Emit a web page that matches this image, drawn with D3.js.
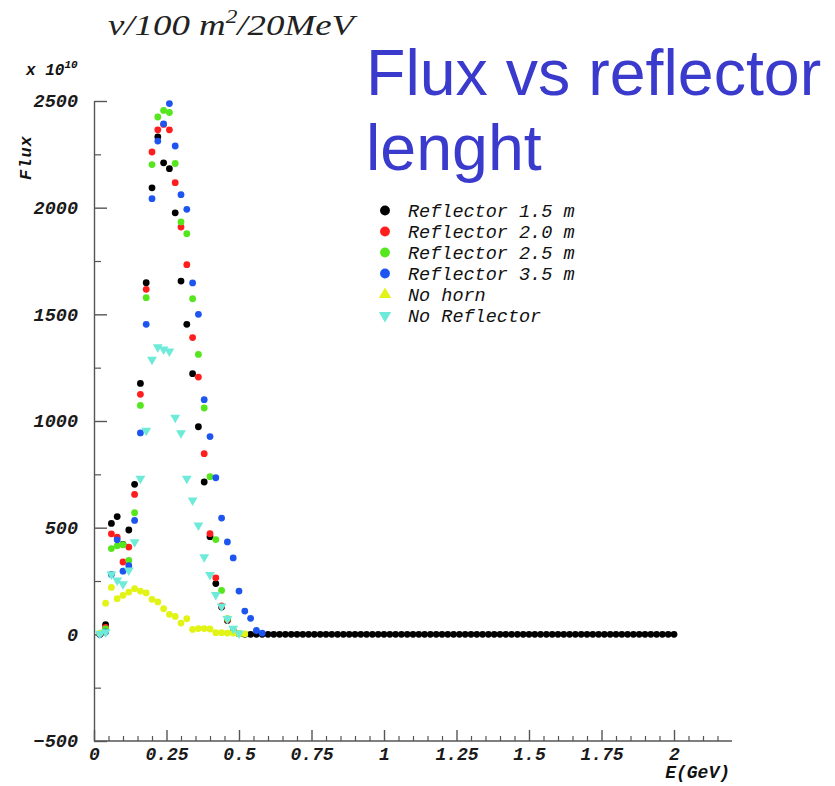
<!DOCTYPE html>
<html>
<head>
<meta charset="utf-8">
<script src="https://cdn.jsdelivr.net/npm/d3@7/dist/d3.min.js"></script>
<style>
  html, body { margin: 0; padding: 0; background: #fff; }
  svg { display: block; }
</style>
</head>
<body>
<svg id="chart" width="835" height="786"></svg>
<script>
// ---- data (bin centres in GeV, 20 MeV bins) ----
const energies = [
  0.02,0.04,0.06,0.08,0.10,0.12,0.14,0.16,0.18,0.20,
  0.22,0.24,0.26,0.28,0.30,0.32,0.34,0.36,0.38,0.40,
  0.42,0.44,0.46,0.48,0.50,0.52,0.54,0.56,0.58,0.60,
  0.62,0.64,0.66,0.68,0.70,0.72,0.74,0.76,0.78,0.80,
  0.82,0.84,0.86,0.88,0.90,0.92,0.94,0.96,0.98,1.00,
  1.02,1.04,1.06,1.08,1.10,1.12,1.14,1.16,1.18,1.20,
  1.22,1.24,1.26,1.28,1.30,1.32,1.34,1.36,1.38,1.40,
  1.42,1.44,1.46,1.48,1.50,1.52,1.54,1.56,1.58,1.60,
  1.62,1.64,1.66,1.68,1.70,1.72,1.74,1.76,1.78,1.80,
  1.82,1.84,1.86,1.88,1.90,1.92,1.94,1.96,1.98,2.00
];
const reflector15 = [
  0,45,520,552,422,489,703,1176,1648,2093,
  2332,2210,2183,1976,1656,1453,1222,973,714,458,
  238,128,65,15,3,0,0,0,0,0,
  0,0,0,0,0,0,0,0,0,0,
  0,0,0,0,0,0,0,0,0,0,
  0,0,0,0,0,0,0,0,0,0,
  0,0,0,0,0,0,0,0,0,0,
  0,0,0,0,0,0,0,0,0,0,
  0,0,0,0,0,0,0,0,0,0,
  0,0,0,0,0,0,0,0,0,0
];
const reflector20 = [0,33,471,455,339,409,656,1125,1617,2261,2365,2390,2365,2117,1909,1733,1391,1206,847,472,265,133,68,15,3];
const reflector25 = [3,25,402,415,420,346,570,1073,1578,2202,2425,2456,2446,2207,1933,1878,1573,1312,1061,739,444,206,73,15,3];
const reflector35 = [0,11,281,443,296,322,534,944,1453,2042,2312,2393,2488,2289,2061,1992,1647,1500,1100,927,734,545,433,358,203,109,75,18,6];
const noHorn      = [5,146,220,167,183,198,214,203,194,164,152,120,94,84,53,73,23,27,27,25,8,8,6,6,4,2];
const noReflector = [3,11,281,253,236,300,432,730,955,1288,1347,1336,1327,1016,943,730,628,511,362,279,185,131,73,27,5];

const seriesNames = ["Reflector 1.5 m","Reflector 2.0 m","Reflector 2.5 m","Reflector 3.5 m","No horn","No Reflector"];
const seriesValues = [reflector15, reflector20, reflector25, reflector35, noHorn, noReflector];
const seriesColors = ["#000000","#ff1e1e","#55e61e","#1e55f0","#e2f316","#6eebd8"];
const dataShapes   = ["circle","circle","circle","circle","circle","down"];
const legendShapes = ["circle","circle","circle","circle","up","down"];

const xMajorTicks = [0,0.25,0.5,0.75,1,1.25,1.5,1.75,2];
const xTickLabels = ["0","0.25","0.5","0.75","1","1.25","1.5","1.75","2"];
const xMinorTicks = [0.05,0.1,0.15,0.2,0.3,0.35,0.4,0.45,0.55,0.6,0.65,0.7,0.8,0.85,0.9,0.95,1.05,1.1,1.15,1.2,1.3,1.35,1.4,1.45,1.55,1.6,1.65,1.7,1.8,1.85,1.9,1.95,2.05,2.1,2.15];
const yMajorTicks = [-500,0,500,1000,1500,2000,2500];
const yMinorTicks = [-250,250,750,1250,1750,2250];

// ---- layout ----
const svg = d3.select("#chart");
const x = d3.scaleLinear().domain([0, 2.2]).range([94, 732]);
const y = d3.scaleLinear().domain([-500, 2500]).range([741, 101]);

const monoBI = "'Liberation Mono','Courier New',monospace";
const axisColor = "#555";

// x axis
const xAxis = d3.axisBottom(x).tickValues(xMajorTicks)
  .tickFormat((d, i) => xTickLabels[i]).tickSizeInner(-11).tickSizeOuter(0).tickPadding(6);
const gx = svg.append("g").attr("transform", "translate(0,741)").call(xAxis);
gx.select(".domain").attr("stroke", axisColor).attr("stroke-width", 1.4).attr("d", `M${x(0)},0H732`);
gx.selectAll(".tick line").attr("stroke", axisColor).attr("stroke-width", 1.4);
gx.selectAll(".tick text").attr("font-family", monoBI).attr("font-weight", "bold")
  .attr("font-style", "italic").attr("font-size", 18).attr("fill", "#1a1a1a");
const gxm = svg.append("g").attr("transform", "translate(0,741)")
  .call(d3.axisBottom(x).tickValues(xMinorTicks).tickFormat("").tickSizeInner(-5).tickSizeOuter(0));
gxm.select(".domain").remove();
gxm.selectAll(".tick line").attr("stroke", axisColor).attr("stroke-width", 1.2);

// y axis
const yAxis = d3.axisLeft(y).tickValues(yMajorTicks).tickFormat(d3.format("d"))
  .tickSizeInner(-13).tickSizeOuter(0).tickPadding(16);
const gy = svg.append("g").attr("transform", "translate(94,0)").call(yAxis);
gy.select(".domain").attr("stroke", axisColor).attr("stroke-width", 1.4);
gy.selectAll(".tick line").attr("stroke", axisColor).attr("stroke-width", 1.4);
gy.selectAll(".tick text").attr("font-family", monoBI).attr("font-weight", "bold")
  .attr("font-style", "italic").attr("font-size", 18.5).attr("fill", "#1a1a1a");
const gym = svg.append("g").attr("transform", "translate(94,0)")
  .call(d3.axisLeft(y).tickValues(yMinorTicks).tickFormat("").tickSizeInner(-7).tickSizeOuter(0));
gym.select(".domain").remove();
gym.selectAll(".tick line").attr("stroke", axisColor).attr("stroke-width", 1.2);

// ---- markers ----
function drawMarker(g, shape, color, cx, cy, scale) {
  if (shape === "circle") {
    g.append("circle").attr("cx", cx).attr("cy", cy).attr("r", 3.4 * scale).attr("fill", color);
  } else {
    const sym = d3.symbol().type(d3.symbolTriangle).size(42 * scale * scale);
    g.append("path").attr("d", sym())
      .attr("transform", `translate(${cx},${cy})` + (shape === "down" ? " rotate(180)" : ""))
      .attr("fill", color);
  }
}

const marks = svg.append("g");
seriesValues.forEach((vals, s) => {
  const g = marks.append("g");
  vals.forEach((v, i) => {
    drawMarker(g, dataShapes[s], seriesColors[s], x(energies[i]), y(v), 1);
  });
});

// ---- legend ----
const legend = svg.append("g");
seriesNames.forEach((name, i) => {
  const cy = 210.5 + i * 21;
  drawMarker(legend, legendShapes[i], seriesColors[i], 385, cy, legendShapes[i] === "circle" ? 1.45 : 1.25);
  legend.append("text").attr("x", 408).attr("y", cy).attr("dy", "0.36em")
    .attr("font-family", monoBI).attr("font-style", "italic").attr("font-size", 18.5)
    .attr("fill", "#111").text(name);
});

// ---- texts ----
const mult = svg.append("text").attr("x", 26).attr("y", 75)
  .attr("font-family", monoBI).attr("font-weight", "bold").attr("font-style", "italic")
  .attr("font-size", 16).attr("fill", "#111");
mult.append("tspan").text("x 10");
mult.append("tspan").attr("font-size", 11).attr("dy", -7).text("10");

svg.append("text").attr("transform", "translate(31,180) rotate(-90)")
  .attr("font-family", monoBI).attr("font-weight", "bold").attr("font-style", "italic")
  .attr("font-size", 17).attr("letter-spacing", 1).attr("fill", "#111").text("Flux");

svg.append("text").attr("x", 730).attr("y", 778).attr("text-anchor", "end")
  .attr("font-family", monoBI).attr("font-weight", "bold").attr("font-style", "italic")
  .attr("font-size", 18).attr("fill", "#111").text("E(GeV)");

const units = svg.append("text").attr("x", 108).attr("y", 35)
  .attr("font-family", "'Liberation Serif','Times New Roman',serif").attr("font-style", "italic")
  .attr("font-size", 30).attr("fill", "#222")
  .attr("textLength", 246).attr("lengthAdjust", "spacingAndGlyphs");
units.append("tspan").text("\u03BD/100 m");
units.append("tspan").attr("font-size", 19).attr("dy", -12).text("2");
units.append("tspan").attr("dy", 12).text("/20MeV");

const big = svg.append("g").attr("font-family", "'Liberation Sans',Arial,sans-serif")
  .attr("font-size", 64.5).attr("fill", "#3a3acc");
big.append("text").attr("x", 366).attr("y", 95).text("Flux vs reflector");
big.append("text").attr("x", 366).attr("y", 170).text("lenght");
</script>
</body>
</html>
